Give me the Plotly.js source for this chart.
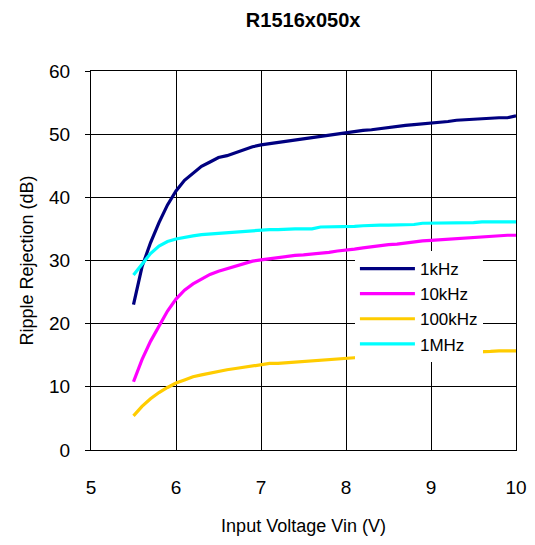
<!DOCTYPE html>
<html>
<head>
<meta charset="utf-8">
<script src="https://cdn.plot.ly/plotly-3.0.1.min.js"></script>
<style>html,body{margin:0;padding:0;background:#fff;}#chart{width:535px;height:545px;}</style>
</head>
<body>
<div id="chart"></div>
<script>
const vin = [5.5,5.6,5.7,5.8,5.9,6.0,6.1,6.2,6.3,6.4,6.5,6.6,6.7,6.8,6.9,7.0,7.1,7.2,7.3,7.4,7.5,7.6,7.7,7.8,7.9,8.0,8.1,8.2,8.3,8.4,8.5,8.6,8.7,8.8,8.9,9.0,9.1,9.2,9.3,9.4,9.5,9.6,9.7,9.8,9.9,10.0];
const rr1k = [23.0,29.0,32.8,36.0,38.8,41.0,42.7,43.8,44.9,45.6,46.3,46.6,47.1,47.5,48.0,48.3,48.5,48.7,48.9,49.1,49.3,49.5,49.7,49.9,50.1,50.3,50.4,50.6,50.7,50.9,51.1,51.2,51.4,51.5,51.6,51.8,51.9,52.0,52.2,52.3,52.4,52.5,52.5,52.6,52.6,52.9];
const rr10k = [10.8,14.3,17.2,19.7,22.0,23.9,25.3,26.3,27.1,27.8,28.3,28.7,29.0,29.5,29.9,30.1,30.3,30.4,30.6,30.8,30.9,31.0,31.2,31.3,31.5,31.6,31.8,32.0,32.2,32.4,32.5,32.6,32.8,32.9,33.1,33.2,33.3,33.4,33.5,33.6,33.7,33.8,33.9,33.9,34.0,34.0];
const rr100k = [5.4,6.9,8.1,9.1,9.9,10.6,11.1,11.6,11.9,12.2,12.4,12.7,12.9,13.1,13.3,13.6,13.7,13.7,13.8,14.0,14.0,14.1,14.2,14.3,14.4,14.5,14.6,14.7,14.8,14.8,14.9,15.0,15.0,15.1,15.1,15.2,15.3,15.3,15.4,15.5,15.5,15.5,15.6,15.7,15.7,15.7];
const rr1M = [27.7,29.5,31.1,32.3,33.0,33.4,33.7,33.9,34.1,34.2,34.4,34.5,34.6,34.7,34.7,34.9,34.9,34.9,35.0,35.0,35.0,35.0,35.3,35.3,35.3,35.3,35.4,35.5,35.6,35.6,35.6,35.6,35.6,35.7,35.9,35.9,35.9,35.9,35.9,35.9,36.0,36.1,36.1,36.1,36.1,36.1];
const seriesNames = ["1kHz","10kHz","100kHz","1MHz"];
const seriesColors = ["#000080","#FF00FF","#FFCC00","#00FFFF"];
const xTicks = [5,6,7,8,9,10];
const yTicks = [0,10,20,30,40,50,60];

const ys = [rr1k, rr10k, rr100k, rr1M];
const traces = ys.map((y, i) => ({
  x: vin, y: y, type: 'scatter', mode: 'lines', name: seriesNames[i],
  line: {color: seriesColors[i], width: 3.2}
}));

const font = "Arial, 'Liberation Sans', sans-serif";
const layout = {
  width: 535, height: 545,
  margin: {l: 91, r: 19, t: 71, b: 95},
  paper_bgcolor: '#fff', plot_bgcolor: '#fff',
  font: {family: font, color: '#000', size: 18},
  title: {text: '<b>R1516x050x</b>', font: {family: font, size: 20, color: '#000'}, x: 0.5666, xanchor: 'center', y: 0.963, yanchor: 'middle'},
  showlegend: true,
  legend: {x: 0.621, y: 0.525, xanchor: 'left', yanchor: 'top', bgcolor: '#fff', borderwidth: 0,
           font: {family: font, size: 17, color: '#000'}, itemwidth: 55, tracegroupgap: 0},
  xaxis: {range: [5, 10], tickvals: xTicks, ticktext: xTicks.map(String), showgrid: true, gridcolor: '#000', gridwidth: 1,
          showline: true, linecolor: '#000', linewidth: 1, mirror: true, ticks: 'inside', ticklen: 5, tickcolor: '#000',
          zeroline: false, tickfont: {size: 19}, ticklabelstandoff: 20,
          title: {text: 'Input Voltage Vin (V)', font: {size: 18}, standoff: 22}},
  yaxis: {range: [0, 60], tickvals: yTicks, ticktext: yTicks.map(String), showgrid: true, gridcolor: '#000', gridwidth: 1,
          showline: true, linecolor: '#000', linewidth: 1, mirror: true, ticks: 'outside', ticklen: 5, tickcolor: '#000',
          zeroline: false, tickfont: {size: 19}, ticklabelstandoff: 11,
          title: {text: 'Ripple Rejection (dB)', font: {size: 18}, standoff: 10}}
};
Plotly.newPlot('chart', traces, layout, {displayModeBar: false, staticPlot: true});
</script>
</body>
</html>
